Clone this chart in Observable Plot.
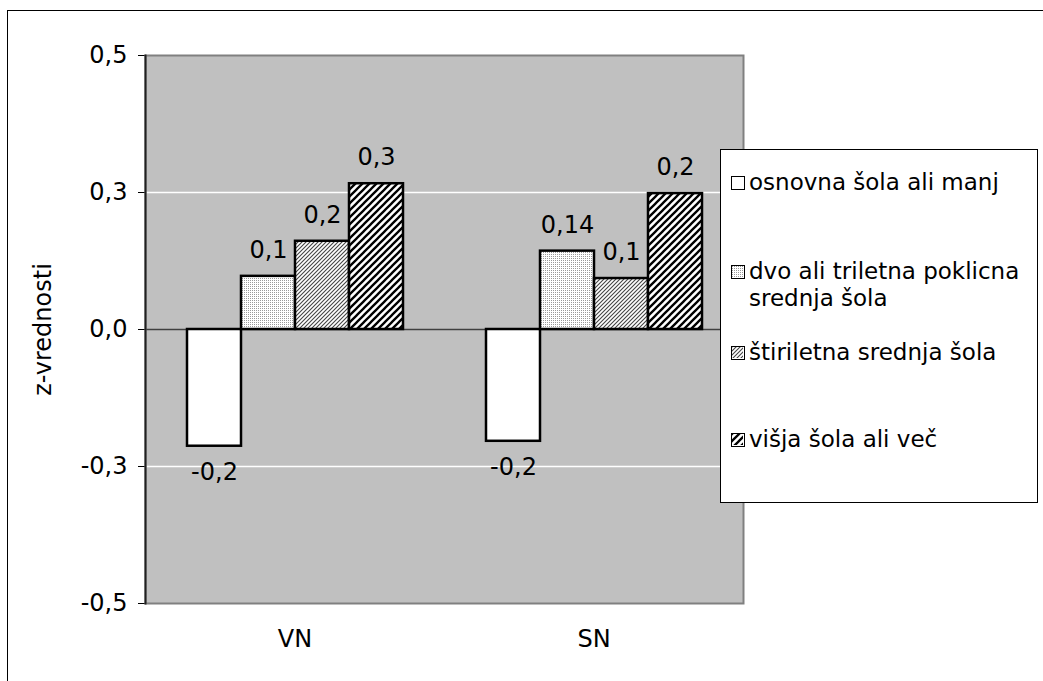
<!DOCTYPE html>
<html>
<head>
<meta charset="utf-8">
<script src="https://cdn.jsdelivr.net/npm/d3@7"></script>
<script src="https://cdn.jsdelivr.net/npm/@observablehq/plot@0.6"></script>
<style>
  html, body { margin: 0; padding: 0; background: #fff; }
  #wrap { position: relative; width: 1043px; height: 681px; overflow: hidden; font-family: "DejaVu Sans", sans-serif; }
  #border { position: absolute; left: 7px; top: 10px; width: 2000px; height: 2000px; border-left: 1.5px solid #000; border-top: 1.5px solid #000; }
  #chart { position: absolute; left: 0; top: 0; }
  #legend { position: absolute; left: 720px; top: 149px; width: 318px; height: 354px; border: 1px solid #000; background: #fff; box-sizing: border-box; }
  .item { position: absolute; left: 10px; font-size: 23px; line-height: 27px; color: #000; white-space: nowrap; }
  .sw { position: absolute; left: 0; top: 6.5px; width: 14px; height: 14px; border: 1.5px solid #000; box-sizing: border-box; }
  .sw svg { display: block; }
  .txt { position: absolute; left: 18px; top: 0; }
</style>
</head>
<body>
<svg width="0" height="0" style="position:absolute">
  <defs>
    <pattern id="pDots" width="2" height="2" patternUnits="userSpaceOnUse">
      <rect width="2" height="2" fill="#fff"/>
      <rect width="1" height="1" fill="#999"/>
    </pattern>
    <pattern id="pFine" width="4" height="4" patternUnits="userSpaceOnUse">
      <rect width="4" height="4" fill="#fff"/>
      <path d="M-1,1 L1,-1 M0,4 L4,0 M3,5 L5,3" stroke="#444" stroke-width="1.1"/>
    </pattern>
    <pattern id="pBold" width="7" height="7" patternUnits="userSpaceOnUse">
      <rect width="7" height="7" fill="#fff"/>
      <path d="M-1,1 L1,-1 M0,7 L7,0 M6,8 L8,6" stroke="#000" stroke-width="2.3"/>
    </pattern>
  </defs>
</svg>
<div id="wrap">
  <div id="border"></div>
  <div id="chart"></div>
  <div id="legend"></div>
</div>
<script>
const categories = ["VN", "SN"];
const series = [
  "osnovna šola ali manj",
  "dvo ali triletna poklicna srednja šola",
  "štiriletna srednja šola",
  "višja šola ali več"
];
const legendLines = [
  ["osnovna šola ali manj"],
  ["dvo ali triletna poklicna", "srednja šola"],
  ["štiriletna srednja šola"],
  ["višja šola ali več"]
];
const valuesVN = [-0.213, 0.097, 0.161, 0.266];
const valuesSN = [-0.204, 0.143, 0.093, 0.248];
const labelsVN = ["-0,2", "0,1", "0,2", "0,3"];
const labelsSN = ["-0,2", "0,14", "0,1", "0,2"];
const yTicks = [-0.5, -0.25, 0, 0.25, 0.5];
const yTickLabels = ["-0,5", "-0,3", "0,0", "0,3", "0,5"];
const fills = ["#ffffff", "url(#pDots)", "url(#pFine)", "url(#pBold)"];
const yTitle = "z-vrednosti";

const values = [valuesVN, valuesSN];
const labels = [labelsVN, labelsSN];
const data = categories.flatMap((c, i) =>
  series.map((s, j) => ({cat: c, series: s, value: values[i][j], label: labels[i][j]}))
);

const chart = Plot.plot({
  width: 1043,
  height: 681,
  marginLeft: 145,
  marginRight: 300,
  marginTop: 55,
  marginBottom: 78,
  style: {fontFamily: "DejaVu Sans, sans-serif", fontSize: "24px", color: "#000", background: "transparent"},
  fx: {domain: categories, padding: 0, axis: "bottom", label: null, tickSize: 0, tickPadding: 26},
  x: {domain: series, paddingInner: 0, paddingOuter: 0.73, axis: null},
  y: {
    domain: [-0.5, 0.5],
    ticks: yTicks,
    tickFormat: d => yTickLabels[yTicks.indexOf(d)],
    tickSize: 7,
    tickPadding: 11,
    label: yTitle,
    labelAnchor: "center",
    labelArrow: "none",
    labelOffset: 112
  },
  color: {domain: series, range: fills},
  marks: [
    Plot.frame({facet: "super", fill: "#c0c0c0"}),
    Plot.ruleY([-0.25, 0.25], {stroke: "#ffffff", strokeWidth: 1.3}),
    Plot.ruleY([0], {stroke: "#404040", strokeWidth: 1.3}),
    Plot.barY(data, {fx: "cat", x: "series", y: "value", fill: "series", stroke: "#000", strokeWidth: 2.5}),
    Plot.text(data.filter(d => d.value >= 0), {fx: "cat", x: "series", y: "value", text: "label", dy: -26, fill: "#000"}),
    Plot.text(data.filter(d => d.value < 0), {fx: "cat", x: "series", y: "value", text: "label", dy: 26, fill: "#000"}),
    Plot.frame({facet: "super", stroke: "#808080", strokeWidth: 2}),
    Plot.frame({facet: "super", anchor: "left", stroke: "#202020", strokeWidth: 2})
  ]
});
document.getElementById("chart").appendChild(chart);

// legend
const legend = d3.select("#legend");
const tops = [19, 108, 189, 276];
legendLines.forEach((lines, i) => {
  const item = legend.append("div").attr("class", "item").style("top", tops[i] + "px");
  const sw = item.append("div").attr("class", "sw");
  sw.append("svg").attr("width", 11).attr("height", 11)
    .append("rect").attr("width", 11).attr("height", 11).attr("fill", fills[i]);
  item.append("div").attr("class", "txt").html(lines.join("<br>"));
});
</script>
</body>
</html>
